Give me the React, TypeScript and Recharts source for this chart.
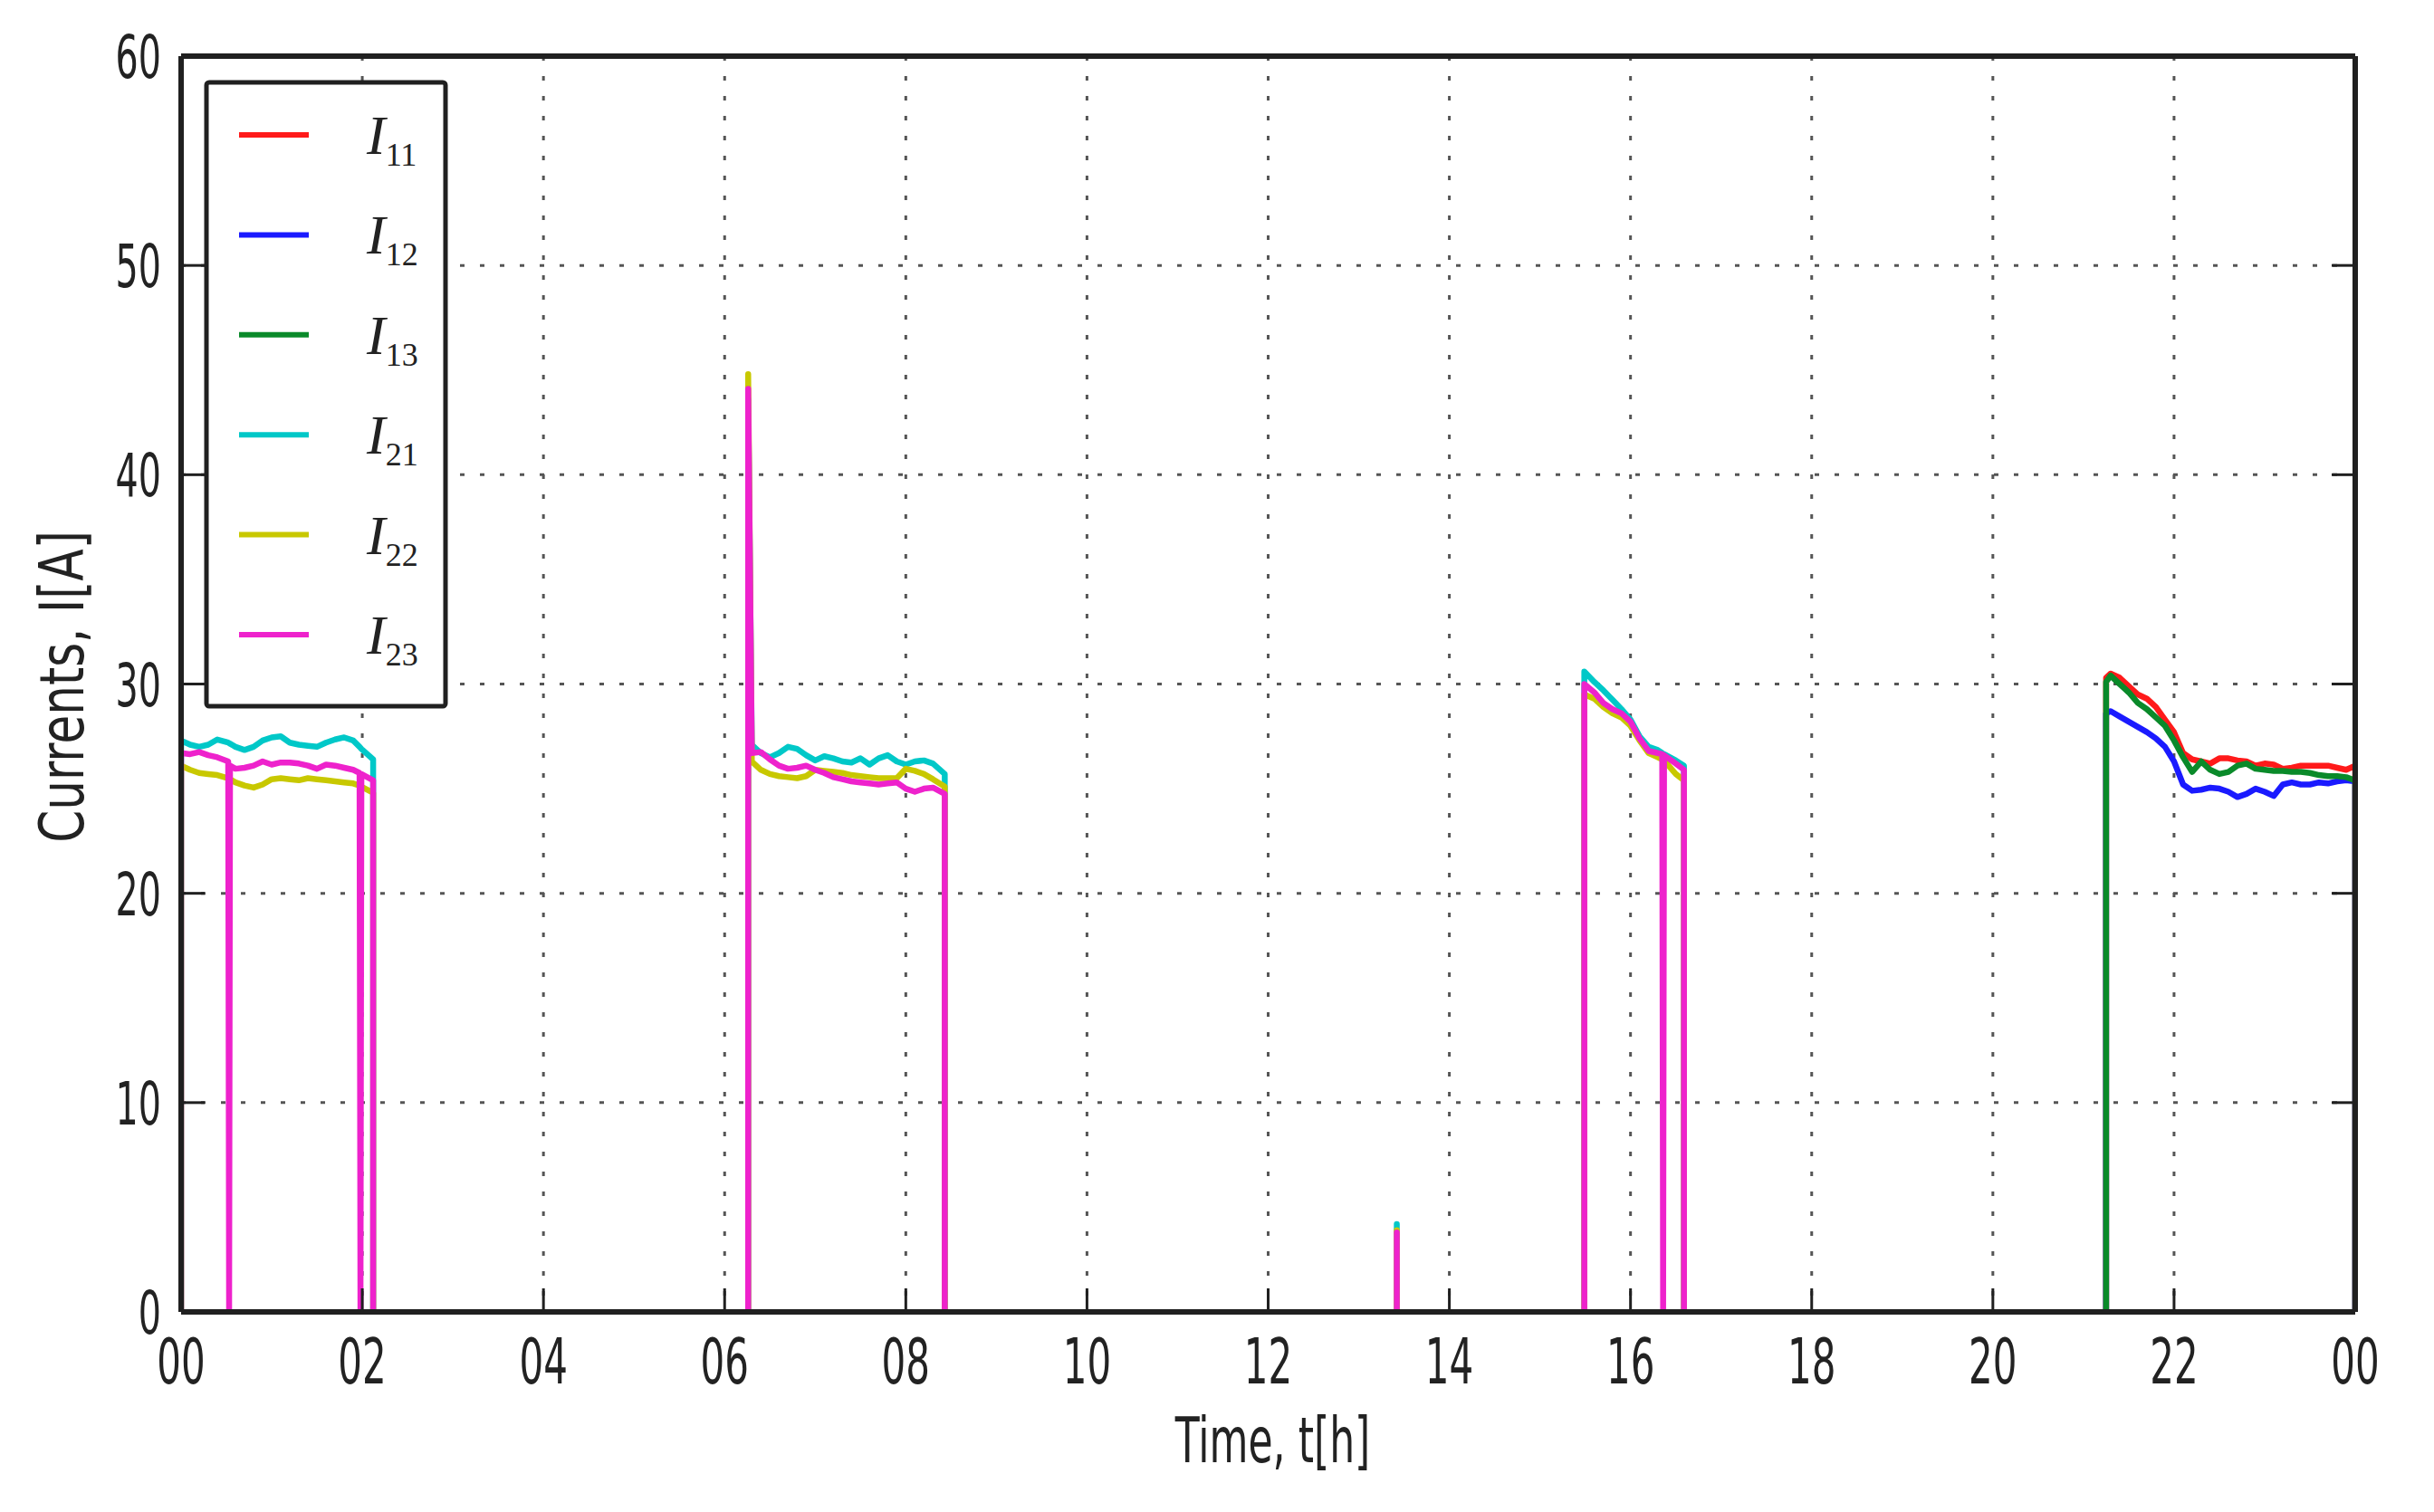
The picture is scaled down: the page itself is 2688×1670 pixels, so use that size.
import React from 'react';
import { LineChart, Line, XAxis, YAxis, CartesianGrid, Legend } from 'recharts';

// ---------- data (time in hours, currents in A) ----------
const HOURS = [0, 2, 4, 6, 8, 10, 12, 14, 16, 18, 20, 22, 24];
const AMPS = [0, 10, 20, 30, 40, 50, 60];

const SEG1_T = [0, 0.1, 0.2, 0.3, 0.4, 0.52, 0.54, 0.6, 0.7, 0.8, 0.9, 1.0, 1.1, 1.2, 1.3, 1.4, 1.5, 1.6, 1.7, 1.8, 1.9, 1.97, 1.99, 2.12];
const SEG2_T = [6.26, 6.3, 6.4, 6.5, 6.6, 6.7, 6.8, 6.9, 7.0, 7.1, 7.2, 7.3, 7.4, 7.5, 7.6, 7.7, 7.8, 7.9, 8.0, 8.1, 8.2, 8.3, 8.43];
const SPIKE_T = [13.42];
const SEG3_T = [15.49, 15.6, 15.7, 15.8, 15.9, 16.0, 16.1, 16.2, 16.3, 16.35, 16.37, 16.5, 16.59];
const SEG4_T = [21.25, 21.3, 21.4, 21.5, 21.6, 21.7, 21.8, 21.9, 22.0, 22.1, 22.2, 22.3, 22.4, 22.5, 22.6, 22.7, 22.8, 22.9, 23.0, 23.1, 23.2, 23.3, 23.4, 23.5, 23.6, 23.7, 23.8, 23.9, 24.0];

// I11, I12, I13 (only the evening block)
const I11_SEG4 = [30.3, 30.5, 30.3, 29.9, 29.5, 29.3, 28.9, 28.3, 27.7, 26.7, 26.4, 26.3, 26.2, 26.45, 26.45, 26.35, 26.3, 26.1, 26.2, 26.15, 25.95, 26.0, 26.1, 26.1, 26.1, 26.1, 26.0, 25.9, 26.1];
const I12_SEG4 = [28.6, 28.7, 28.45, 28.2, 27.95, 27.7, 27.4, 27.0, 26.3, 25.2, 24.9, 24.95, 25.05, 25.0, 24.85, 24.6, 24.75, 25.0, 24.85, 24.65, 25.2, 25.3, 25.2, 25.2, 25.3, 25.25, 25.35, 25.4, 25.35];
const I13_SEG4 = [30.1, 30.4, 30.0, 29.6, 29.1, 28.8, 28.4, 28.0, 27.3, 26.5, 25.8, 26.3, 25.9, 25.7, 25.8, 26.1, 26.2, 25.95, 25.9, 25.85, 25.85, 25.8, 25.8, 25.75, 25.65, 25.6, 25.6, 25.55, 25.4];

// I21, I22, I23
const I21_SEG1 = [27.3, 27.1, 27.0, 27.1, 27.35, 27.2, 27.15, 27.0, 26.85, 27.0, 27.3, 27.45, 27.5, 27.2, 27.1, 27.05, 27.0, 27.2, 27.35, 27.45, 27.3, 27.0, 26.9, 26.4];
const I22_SEG1 = [26.1, 25.9, 25.75, 25.7, 25.65, 25.5, 25.45, 25.3, 25.15, 25.05, 25.2, 25.45, 25.5, 25.45, 25.4, 25.5, 25.45, 25.4, 25.35, 25.3, 25.25, 25.15, 25.1, 24.8];
const I23_SEG1 = [26.7, 26.65, 26.75, 26.6, 26.5, 26.3, 26.1, 25.95, 26.0, 26.1, 26.3, 26.15, 26.25, 26.25, 26.2, 26.1, 25.95, 26.15, 26.1, 26.0, 25.9, 25.75, 25.7, 25.4];

const I21_SEG2 = [43.6, 27.1, 26.7, 26.5, 26.7, 27.0, 26.9, 26.6, 26.35, 26.55, 26.45, 26.3, 26.25, 26.45, 26.15, 26.45, 26.6, 26.3, 26.15, 26.3, 26.35, 26.2, 25.7];
const I22_SEG2 = [44.8, 26.3, 25.9, 25.7, 25.6, 25.55, 25.5, 25.6, 25.9, 25.85, 25.8, 25.75, 25.65, 25.6, 25.55, 25.5, 25.5, 25.5, 25.95, 25.85, 25.7, 25.45, 25.1];
const I23_SEG2 = [44.1, 26.7, 26.75, 26.4, 26.1, 25.95, 26.0, 26.1, 25.9, 25.75, 25.55, 25.45, 25.35, 25.3, 25.25, 25.2, 25.25, 25.3, 25.0, 24.85, 25.0, 25.05, 24.75];

const I21_SPIKE = [4.2];
const I22_SPIKE = [3.9];
const I23_SPIKE = [3.8];

const I21_SEG3 = [30.6, 30.1, 29.7, 29.25, 28.8, 28.3, 27.5, 27.0, 26.85, 26.7, 26.65, 26.35, 26.1];
const I22_SEG3 = [29.5, 29.3, 28.9, 28.6, 28.4, 28.0, 27.3, 26.7, 26.5, 26.4, 26.35, 25.7, 25.4];
const I23_SEG3 = [30.0, 29.6, 29.1, 28.8, 28.6, 28.2, 27.4, 26.8, 26.7, 26.65, 26.6, 26.2, 25.9];

// short drop-outs of I23 to zero
const I23_DIPS = [0.53, 1.98, 16.36];

// ---------- build series ----------
type Pt = { t: number; v: number | null };
function buildSeries(segs: [number[], number[]][], dips: number[] = []): Pt[] {
  const pts: Pt[] = [];
  segs.forEach(([ts, vs]) => {
    const first = ts[0];
    const last = ts[ts.length - 1];
    const inner: Pt[] = ts.map((t, i) => ({ t, v: vs[i] }));
    dips.filter((d) => d > first && d < last).forEach((d) => inner.push({ t: d, v: 0 }));
    inner.sort((a, b) => a.t - b.t);
    pts.push({ t: first, v: 0 }, ...inner, { t: last, v: 0 }, { t: last, v: null });
  });
  return pts;
}

const SERIES = [
  { name: 'I11', color: '#ff1a1a', data: buildSeries([[SEG4_T, I11_SEG4]]) },
  { name: 'I12', color: '#1a1aff', data: buildSeries([[SEG4_T, I12_SEG4]]) },
  { name: 'I13', color: '#0a8a2a', data: buildSeries([[SEG4_T, I13_SEG4]]) },
  { name: 'I21', color: '#00c8c8', data: buildSeries([[SEG1_T, I21_SEG1], [SEG2_T, I21_SEG2], [SPIKE_T, I21_SPIKE], [SEG3_T, I21_SEG3]]) },
  { name: 'I22', color: '#c8c800', data: buildSeries([[SEG1_T, I22_SEG1], [SEG2_T, I22_SEG2], [SPIKE_T, I22_SPIKE], [SEG3_T, I22_SEG3]]) },
  { name: 'I23', color: '#ee22cc', data: buildSeries([[SEG1_T, I23_SEG1], [SEG2_T, I23_SEG2], [SPIKE_T, I23_SPIKE], [SEG3_T, I23_SEG3]], I23_DIPS) },
];

// ---------- styling helpers ----------
const AXIS_COLOR = '#202020';
const TICK_LEN = 26;
const TICK_FONT = 'DejaVu Sans, sans-serif';

const fmtHour = (h: number) => String(h % 24).padStart(2, '0');

const BottomTick = (props: any) => {
  const { x, y, payload } = props;
  return (
    <g>
      <line x1={x} y1={y} x2={x} y2={y - TICK_LEN} stroke={AXIS_COLOR} strokeWidth={3} />
      <text
        transform={`translate(${x},${y + 79}) scale(0.6,1)`}
        textAnchor="middle"
        fontFamily={TICK_FONT}
        fontSize={70}
        fill="#222"
      >
        {fmtHour(payload.value)}
      </text>
    </g>
  );
};

const TopTick = (props: any) => {
  const { x, y } = props;
  return <line x1={x} y1={y} x2={x} y2={y + TICK_LEN} stroke={AXIS_COLOR} strokeWidth={3} />;
};

const LeftTick = (props: any) => {
  const { x, y, payload } = props;
  return (
    <g>
      <line x1={x} y1={y} x2={x + TICK_LEN} y2={y} stroke={AXIS_COLOR} strokeWidth={3} />
      <text
        transform={`translate(${x - 22},${y + 24}) scale(0.6,1)`}
        textAnchor="end"
        fontFamily={TICK_FONT}
        fontSize={66}
        fill="#222"
      >
        {payload.value}
      </text>
    </g>
  );
};

const RightTick = (props: any) => {
  const { x, y } = props;
  return <line x1={x} y1={y} x2={x - TICK_LEN} y2={y} stroke={AXIS_COLOR} strokeWidth={3} />;
};

const XTitle = (props: any) => {
  const vb = props.viewBox;
  const cx = vb.x + vb.width / 2 + 5;
  const by = vb.y + 166;
  return (
    <text transform={`translate(${cx},${by}) scale(0.63,1)`} textAnchor="middle" fontFamily={TICK_FONT} fontSize={70} fill="#222">
      Time, t[h]
    </text>
  );
};

const YTitle = (props: any) => {
  const vb = props.viewBox;
  const bx = vb.x + vb.width - 108;
  const cy = vb.y + vb.height / 2 + 3;
  return (
    <text transform={`translate(${bx},${cy}) rotate(-90) scale(0.76,1)`} textAnchor="middle" fontFamily={TICK_FONT} fontSize={68} fill="#222">
      Currents, I[A]
    </text>
  );
};

const LegendBox = (props: any) => {
  const payload = props.payload || [];
  return (
    <svg width={270} height={695} style={{ display: 'block' }}>
      <rect x={3} y={3} width={264} height={689} fill="#fff" stroke={AXIS_COLOR} strokeWidth={5} rx={3} />
      {payload.map((item: any, i: number) => {
        const cy = 61 + i * 110.4;
        const name = String(item.value);
        return (
          <g key={name}>
            <line x1={39} y1={cy} x2={116} y2={cy} stroke={item.color} strokeWidth={6} />
            <text x={180} y={cy + 21} fontFamily="Liberation Serif, serif" fontSize={62} fill="#222">
              <tspan fontStyle="italic">I</tspan>
              <tspan dy={13} fontSize={36}>{name.slice(1)}</tspan>
            </text>
          </g>
        );
      })}
    </svg>
  );
};

export default function App() {
  return (
    <LineChart
      width={2680}
      height={1654}
      margin={{ top: 44, right: 77, bottom: 93, left: 92 }}
    >
      <CartesianGrid stroke="#555" strokeWidth={3} strokeDasharray="5 17" />
      <XAxis
        xAxisId={0}
        dataKey="t"
        type="number"
        domain={[0, 24]}
        ticks={HOURS}
        interval={0}
        height={120}
        allowDataOverflow
        axisLine={{ stroke: AXIS_COLOR, strokeWidth: 6 }}
        tickLine={false}
        tickSize={0}
        tickMargin={0}
        tick={<BottomTick />}
        label={<XTitle />}
      />
      <XAxis
        xAxisId="top"
        orientation="top"
        type="number"
        domain={[0, 24]}
        ticks={HOURS}
        interval={0}
        height={10}
        allowDataOverflow
        axisLine={{ stroke: AXIS_COLOR, strokeWidth: 6 }}
        tickLine={false}
        tickSize={0}
        tickMargin={0}
        tick={<TopTick />}
      />
      <YAxis
        yAxisId={0}
        type="number"
        domain={[0, 60]}
        ticks={AMPS}
        interval={0}
        width={100}
        allowDataOverflow
        axisLine={{ stroke: AXIS_COLOR, strokeWidth: 6 }}
        tickLine={false}
        tickSize={0}
        tickMargin={0}
        tick={<LeftTick />}
        label={<YTitle />}
      />
      <YAxis
        yAxisId="right"
        orientation="right"
        type="number"
        domain={[0, 60]}
        ticks={AMPS}
        interval={0}
        width={10}
        allowDataOverflow
        axisLine={{ stroke: AXIS_COLOR, strokeWidth: 6 }}
        tickLine={false}
        tickSize={0}
        tickMargin={0}
        tick={<RightTick />}
      />
      {SERIES.map((s) => (
        <Line
          key={s.name}
          name={s.name}
          data={s.data}
          dataKey="v"
          type="linear"
          stroke={s.color}
          strokeWidth={6.5}
          strokeLinejoin="round"
          dot={false}
          activeDot={false}
          connectNulls={false}
          isAnimationActive={false}
        />
      ))}
      <Legend
        layout="horizontal"
        verticalAlign="middle"
        align="center"
        content={<LegendBox />}
        wrapperStyle={{ left: 217, top: 80, width: 270, height: 695 }}
      />
    </LineChart>
  );
}
